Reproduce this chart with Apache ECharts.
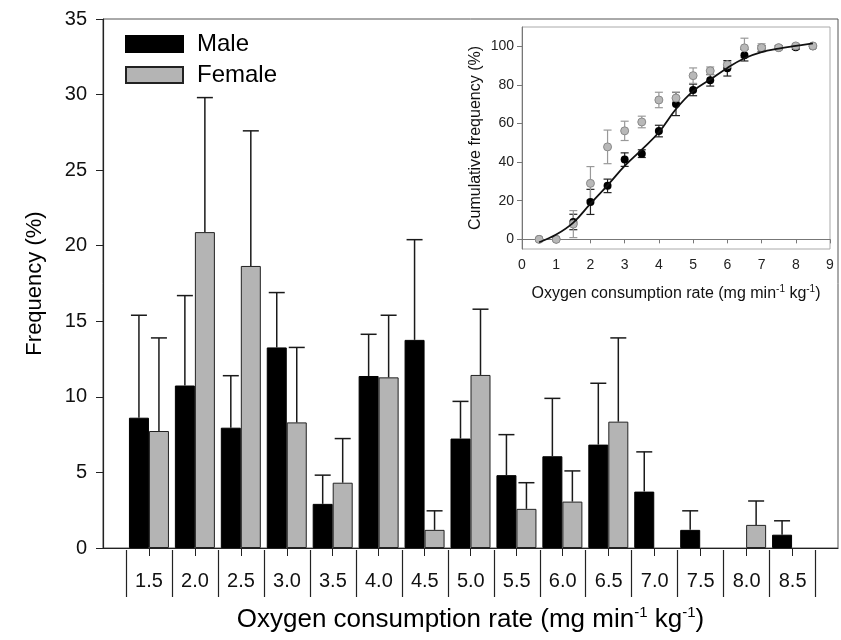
<!DOCTYPE html>
<html lang="en">
<head>
    <meta charset="UTF-8">
    <title>Oxygen consumption rate</title>
    <script src="https://cdn.jsdelivr.net/npm/echarts@6/dist/echarts.min.js"></script>
    <style>
        html, body { margin: 0; padding: 0; background: #fff; }
        #main { width: 841px; height: 640px; }
    </style>
</head>
<body>
<div id="main"></div>
<script>
    // main histogram: frequency (%) per oxygen consumption class
    var categories = ['1.5', '2.0', '2.5', '3.0', '3.5', '4.0', '4.5', '5.0', '5.5', '6.0', '6.5', '7.0', '7.5', '8.0', '8.5'];
    var maleFreq = [8.62, 10.75, 7.96, 13.27, 2.92, 11.38, 13.77, 7.24, 4.82, 6.07, 6.84, 3.73, 1.2, 0, 0.88];
    var maleFreqUpper = [15.4, 16.7, 11.4, 16.9, 4.82, 14.14, 20.4, 9.7, 7.5, 9.9, 10.9, 6.36, 2.46, 0, 1.8];
    var femaleFreq = [7.74, 20.9, 18.66, 8.31, 4.32, 11.29, 1.2, 11.45, 2.59, 3.07, 8.36, 0, 0, 1.53, 0];
    var femaleFreqUpper = [13.9, 29.8, 27.6, 13.27, 7.24, 15.4, 2.46, 15.8, 4.32, 5.1, 13.9, 0, 0, 3.11, 0];

    // inset: cumulative frequency (%)
    var cumRate = [0.5, 1, 1.5, 2, 2.5, 3, 3.5, 4, 4.5, 5, 5.5, 6, 6.5, 7, 7.5, 8, 8.5];
    var maleCum = [0, 0, 9.0, 19.4, 27.7, 41.3, 44.4, 56.1, 70.1, 77.4, 82.4, 88.6, 95.4, 98.8, 99.3, 99.5, 100];
    var maleCumErr = [0, 0, 4, 6.5, 3.5, 3.5, 2, 3, 6, 3, 3, 4, 3, 1.5, 1, 1, 0];
    var femaleCum = [0, 0, 7.9, 29.0, 47.9, 56.2, 60.8, 72.2, 73.2, 84.8, 87.3, 90.4, 99.2, 99.3, 99.3, 100.2, 100.2];
    var femaleCumErr = [0, 0, 7, 8.7, 8.7, 5, 3, 4, 3, 4, 2, 1.5, 5, 2, 1, 1, 0];
    var fitCurve = [-1.5, 2.5, 8.7, 18.5, 28, 38, 46.5, 55.5, 67.5, 76.8, 82.8, 88.8, 93.8, 97, 98.8, 100.2, 101.5];

    var freqTicks = [0, 5, 10, 15, 20, 25, 30, 35];
    var cumTicks = [0, 20, 40, 60, 80, 100];

    var font = "'Liberation Sans', Arial, sans-serif";
    var rates = categories.map(Number);

    function barPairs(vals) {
        return rates.map(function (r, i) { return [r, vals[i] > 0 ? vals[i] : '-']; });
    }
    function upperTriples(vals, ups) {
        return rates.map(function (r, i) { return [r, vals[i], ups[i]]; });
    }

    // upper-only error bar next to a bar, shifted by offset px
    function upperBar(offset) {
        return function (params, api) {
            var v = api.value(1), u = api.value(2);
            if (!(u > v)) return;
            var p0 = api.coord([api.value(0), v]);
            var p1 = api.coord([api.value(0), u]);
            var cx = p0[0] + offset;
            var st = { stroke: '#1a1a1a', lineWidth: 1.5 };
            return {
                type: 'group',
                children: [
                    { type: 'line', shape: { x1: cx, y1: p0[1], x2: cx, y2: p1[1] }, style: st },
                    { type: 'line', shape: { x1: cx - 8, y1: p1[1], x2: cx + 8, y2: p1[1] }, style: st }
                ]
            };
        };
    }

    // symmetric error bar for the inset points
    function bothBar(color) {
        return function (params, api) {
            var e = api.value(2);
            if (!(e > 0)) return;
            var x = api.value(0), y = api.value(1);
            var lo = api.coord([x, y - e]), hi = api.coord([x, y + e]);
            var st = { stroke: color, lineWidth: 1.2 };
            return {
                type: 'group',
                children: [
                    { type: 'line', shape: { x1: lo[0], y1: lo[1], x2: hi[0], y2: hi[1] }, style: st },
                    { type: 'line', shape: { x1: lo[0] - 4, y1: lo[1], x2: lo[0] + 4, y2: lo[1] }, style: st },
                    { type: 'line', shape: { x1: hi[0] - 4, y1: hi[1], x2: hi[0] + 4, y2: hi[1] }, style: st }
                ]
            };
        };
    }

    var chart = echarts.init(document.getElementById('main'));
    var option = {
        animation: false,
        textStyle: { fontFamily: font },
        legend: {
            data: ['Male', 'Female'],
            orient: 'vertical',
            left: 120,
            top: 27,
            icon: 'rect',
            itemWidth: 57,
            itemHeight: 16,
            itemGap: 7,
            selectedMode: false,
            textStyle: { fontSize: 24, color: '#000', fontFamily: font, padding: [0, 0, 0, 9] }
        },
        grid: [
            { left: 103, right: 3, top: 19, bottom: 90, show: true, borderColor: '#555', borderWidth: 1 },
            { left: 126, right: 25.4, top: 549, height: 1 },
            { left: 522, right: 11, top: 27, height: 222, show: true, borderColor: '#aaa', borderWidth: 1, backgroundColor: '#fff' }
        ],
        xAxis: [
            {
                type: 'value', gridIndex: 0, min: 1, max: 9,
                axisLine: { lineStyle: { color: '#222', width: 1.2 } },
                axisTick: { length: 8, lineStyle: { color: '#222' }, customValues: rates },
                axisLabel: { show: false },
                splitLine: { show: false },
                name: 'Oxygen consumption rate (mg min{s|-1} kg{s|-1})',
                nameLocation: 'middle',
                nameGap: 57,
                nameTextStyle: {
                    fontSize: 26, color: '#000', fontFamily: font, lineHeight: 30,
                    rich: { s: { fontSize: 15, lineHeight: 16, verticalAlign: 'top', color: '#000', fontFamily: font } }
                }
            },
            {
                type: 'category', gridIndex: 1, data: categories, boundaryGap: true,
                axisLine: { show: false },
                axisTick: { show: true, length: 47, lineStyle: { color: '#222', width: 1.2 } },
                axisLabel: { fontSize: 20, color: '#111', margin: 21, interval: 0 }
            },
            {
                type: 'value', gridIndex: 2, min: 0, max: 9, interval: 1,
                axisLine: { lineStyle: { color: '#777' } },
                axisTick: { length: 4, lineStyle: { color: '#777' } },
                axisLabel: { fontSize: 14, color: '#222', margin: 9 },
                splitLine: { show: false },
                name: 'Oxygen consumption rate (mg min{s|-1} kg{s|-1})',
                nameLocation: 'middle',
                nameGap: 35,
                nameTextStyle: {
                    fontSize: 16, color: '#111', fontFamily: font, lineHeight: 19,
                    rich: { s: { fontSize: 10, lineHeight: 10, verticalAlign: 'top', color: '#111', fontFamily: font } }
                }
            }
        ],
        yAxis: [
            {
                type: 'value', gridIndex: 0, min: 0, max: 35, interval: 5,
                axisLine: { show: true, lineStyle: { color: '#222', width: 1.2 } },
                axisTick: { show: true, length: 7, lineStyle: { color: '#222' }, customValues: freqTicks },
                axisLabel: { fontSize: 20, color: '#111', margin: 16, customValues: freqTicks },
                splitLine: { show: false },
                name: 'Frequency (%)',
                nameLocation: 'middle',
                nameGap: 57,
                nameTextStyle: { fontSize: 22, color: '#000', fontFamily: font }
            },
            { type: 'value', gridIndex: 1, show: false },
            {
                type: 'value', gridIndex: 2, min: -5, max: 110,
                axisLine: { show: true, lineStyle: { color: '#777' } },
                axisTick: { show: true, length: 5, lineStyle: { color: '#777' }, customValues: cumTicks },
                axisLabel: { fontSize: 14, color: '#222', margin: 8, customValues: cumTicks },
                splitLine: { show: false },
                name: 'Cumulative frequency (%)',
                nameLocation: 'middle',
                nameGap: 38,
                nameTextStyle: { fontSize: 16, color: '#111', fontFamily: font }
            }
        ],
        series: [
            {
                name: 'Male', type: 'bar', xAxisIndex: 0, yAxisIndex: 0,
                barWidth: 20, barGap: '0%',
                itemStyle: { color: '#000', borderColor: '#000', borderWidth: 1 },
                data: barPairs(maleFreq)
            },
            {
                name: 'Female', type: 'bar', xAxisIndex: 0, yAxisIndex: 0,
                barWidth: 20, barGap: '0%',
                itemStyle: { color: '#b4b4b4', borderColor: '#222', borderWidth: 1 },
                data: barPairs(femaleFreq)
            },
            {
                type: 'custom', xAxisIndex: 0, yAxisIndex: 0, z: 3,
                renderItem: upperBar(-10),
                encode: { x: 0, y: [1, 2] },
                data: upperTriples(maleFreq, maleFreqUpper)
            },
            {
                type: 'custom', xAxisIndex: 0, yAxisIndex: 0, z: 3,
                renderItem: upperBar(10),
                encode: { x: 0, y: [1, 2] },
                data: upperTriples(femaleFreq, femaleFreqUpper)
            },
            {
                type: 'custom', xAxisIndex: 2, yAxisIndex: 2,
                renderItem: bothBar('#222'),
                encode: { x: 0, y: 1 },
                data: cumRate.map(function (r, i) { return [r, maleCum[i], maleCumErr[i]]; })
            },
            {
                type: 'custom', xAxisIndex: 2, yAxisIndex: 2,
                renderItem: bothBar('#999'),
                encode: { x: 0, y: 1 },
                data: cumRate.map(function (r, i) { return [r, femaleCum[i], femaleCumErr[i]]; })
            },
            {
                type: 'scatter', xAxisIndex: 2, yAxisIndex: 2, symbolSize: 8,
                itemStyle: { color: '#000', opacity: 1 },
                data: cumRate.map(function (r, i) { return [r, maleCum[i]]; })
            },
            {
                type: 'scatter', xAxisIndex: 2, yAxisIndex: 2, symbolSize: 8,
                itemStyle: { color: '#b8b8b8', borderColor: '#8a8a8a', borderWidth: 1, opacity: 1 },
                data: cumRate.map(function (r, i) { return [r, femaleCum[i]]; })
            },
            {
                type: 'line', xAxisIndex: 2, yAxisIndex: 2, smooth: 0.4, showSymbol: false,
                lineStyle: { color: '#111', width: 1.8 },
                data: cumRate.map(function (r, i) { return [r, fitCurve[i]]; })
            }
        ]
    };
    chart.setOption(option);
    window.onresize = function () {
        chart.resize();
    };
</script>
</body>
</html>
